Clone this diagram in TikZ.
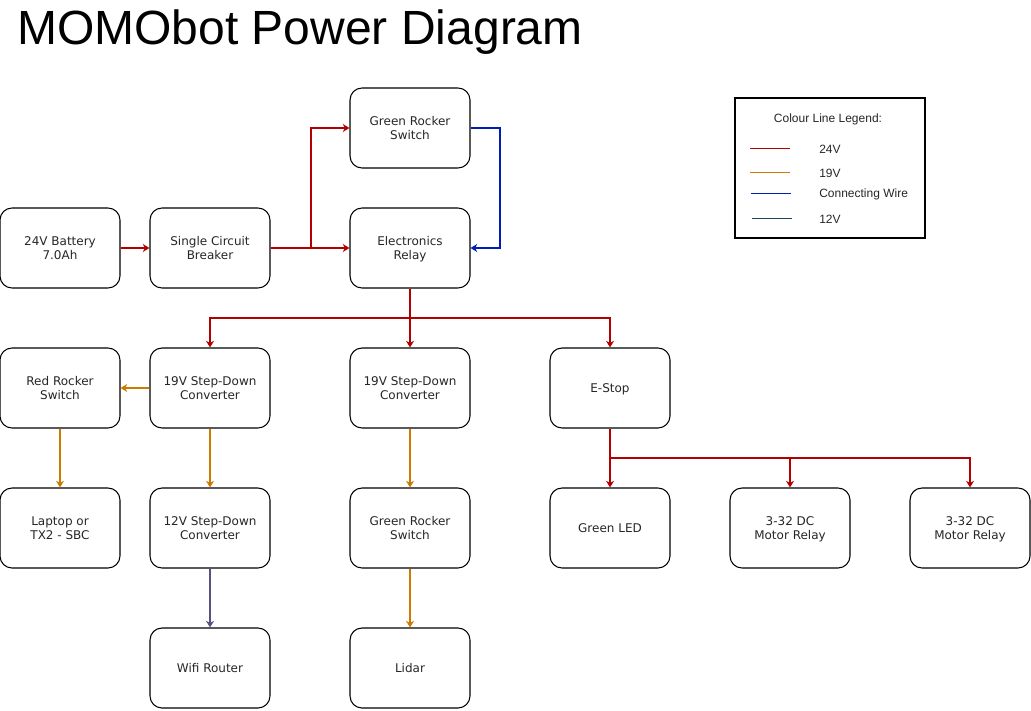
\documentclass[tikz,border=0pt]{standalone}
\usepackage{fontspec}
\setmainfont{DejaVu Sans}
\newfontfamily\arialfont{Liberation Sans}
\usetikzlibrary{arrows.meta}
\definecolor{c24}{HTML}{B20000}
\definecolor{c19}{HTML}{CC7A00}
\definecolor{cblue}{HTML}{001DBC}
\definecolor{cpurple}{HTML}{56517E}
\definecolor{cnavy}{HTML}{23445D}
\tikzset{
  box/.style={draw=black, line width=0.8pt, rounded corners=9pt, minimum width=90pt, minimum height=60pt,
    inner sep=0pt, align=center, font=\fontsize{9}{10.5}\selectfont, text=black!85, text depth=-0.75pt},
  wire/.style={line width=0.8pt, -{Stealth[length=5pt,width=6pt,inset=1.6pt]}},
  plain/.style={line width=0.65pt},
  legtext/.style={font=\arialfont\fontsize{9}{10.5}\selectfont, inner sep=0pt, text=black!85},
}
\begin{document}
\begin{tikzpicture}[x=0.75pt,y=-0.75pt]
\useasboundingbox (0,0) rectangle (1031,710);
% title
\node[anchor=base west, inner sep=0pt, font=\arialfont\fontsize{36}{40}\selectfont] (title) at (17,45) {MOMObot Power Diagram};
% boxes
\node[box] (bat) at (60,248) {24V Battery\\7.0Ah};
\node[box] (brk) at (210,248) {Single Circuit\\Breaker};
\node[box] (grs) at (410,128) {Green Rocker\\Switch};
\node[box] (rel) at (410,248) {Electronics\\Relay};
\node[box] (rrs) at (60,388) {Red Rocker\\Switch};
\node[box] (sda) at (210,388) {19V Step-Down\\Converter};
\node[box] (sdb) at (410,388) {19V Step-Down\\Converter};
\node[box] (est) at (610,388) {E-Stop};
\node[box] (lap) at (60,528) {Laptop or\\TX2 - SBC};
\node[box] (sdc) at (210,528) {12V Step-Down\\Converter};
\node[box] (grb) at (410,528) {Green Rocker\\Switch};
\node[box] (led) at (610,528) {Green LED};
\node[box] (mra) at (790,528) {3-32 DC\\Motor Relay};
\node[box] (mrb) at (970,528) {3-32 DC\\Motor Relay};
\node[box] (wifi) at (210,668) {Wifi Router};
\node[box] (lid) at (410,668) {Lidar};
% connectors
\draw[wire,c24] (bat) -- (brk);
\draw[wire,c24] (brk) -- (rel);
\coordinate (j1) at (311,248);
\draw[wire,c24] (j1) |- (grs);
\coordinate (j3) at (500,128);
\draw[wire,cblue] (grs.east) -- (j3) |- (rel.east);
\coordinate (j2) at (410,318);
\draw[wire,c24] (rel) -- (sdb);
\draw[wire,c24] (j2) -| (sda);
\draw[wire,c24] (j2) -| (est);
\draw[wire,c19] (sda) -- (rrs);
\draw[wire,c19] (rrs) -- (lap);
\draw[wire,c19] (sda) -- (sdc);
\draw[wire,cpurple] (sdc) -- (wifi);
\draw[wire,c19] (sdb) -- (grb);
\draw[wire,c19] (grb) -- (lid);
\coordinate (j4) at (610,458);
\draw[wire,c24] (est) -- (led);
\draw[wire,c24] (j4) -| (mra);
\draw[wire,c24] (j4) -| (mrb);
% legend
\node[draw=black, line width=0.8pt, minimum width=142.5pt, minimum height=105pt, inner sep=0pt] (leg) at (830,168) {};
\node[legtext] (legt) at (828,119) {Colour Line Legend:};
\coordinate (la1) at (750,148); \coordinate (lb1) at (790,148);
\coordinate (la2) at (750,172); \coordinate (lb2) at (790,172);
\coordinate (la3) at (751,193); \coordinate (lb3) at (791,193);
\coordinate (la4) at (752,218); \coordinate (lb4) at (792,218);
\draw[plain,c24] (la1) -- (lb1);
\draw[plain,c19] (la2) -- (lb2);
\draw[plain,cblue] (la3) -- (lb3);
\draw[plain,cnavy] (la4) -- (lb4);
\node[legtext, anchor=west] (l1) at (819,149) {24V};
\node[legtext, anchor=west] (l2) at (819,173) {19V};
\node[legtext, anchor=west] (l3) at (819,194) {Connecting Wire};
\node[legtext, anchor=west] (l4) at (819,219) {12V};
\end{tikzpicture}
\end{document}
